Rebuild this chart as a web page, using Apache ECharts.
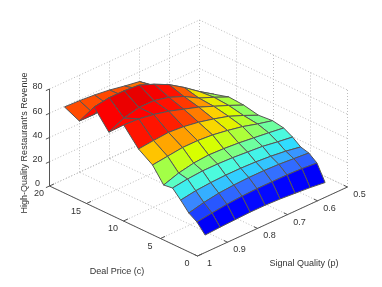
<!DOCTYPE html>
<html><head><meta charset="utf-8">
<style>html,body{margin:0;padding:0;background:#fff}#c{width:382px;height:287px}</style>
<script src="https://cdn.jsdelivr.net/npm/echarts@6/dist/echarts.min.js"></script>
</head><body><div id="c"></div>
<script>
// Tick labels
const dealPriceTicks = [0, 5, 10, 15, 20];
const signalTicks = [0.5, 0.6, 0.7, 0.8, 0.9, 1];
const revenueTicks = [0, 20, 40, 60, 80];
// Surface sample positions
const dealPrice = [1, 2.1, 3.2, 4.3, 5.4, 6.6, 8.1, 10, 12, 14, 16, 18, 20];
const signalQuality = [0.95, 0.9, 0.85, 0.8, 0.75, 0.7, 0.65, 0.6, 0.55];
// Revenue per deal price, across signalQuality
const rev01 = [8.7, 9.5, 10, 10.5, 10.5, 10, 9, 8, 6.5];
const rev02 = [16.3, 18, 19.5, 20.5, 21, 21, 21, 20.5, 19.4];
const rev03 = [20.5, 23.5, 25.5, 26.5, 27, 27, 26.5, 25.5, 24.5];
const rev04 = [28, 30, 31, 31.5, 31.5, 31, 30, 28.5, 26.3];
const rev05 = [34.8, 36.5, 37.5, 37.5, 37, 36, 35, 33, 31.3];
const rev06 = [33.8, 38, 40.5, 41.5, 41, 40, 38.5, 37, 35.3];
const rev08 = [46, 47.5, 49, 49, 48, 46, 43.5, 40, 37];
const rev10 = [53.7, 55, 56, 55, 53, 50, 46.5, 41.5, 36];
const rev12 = [67.7, 67, 65, 62, 58, 54, 49, 44, 38.6];
const rev14 = [56, 62, 65, 65, 62, 57, 50, 45, 39.5];
const rev16 = [71, 73, 73, 72, 67, 61, 53, 44, 36];
const rev18 = [53.7, 53.5, 55, 57, 57, 54, 46, 38, 31];
const rev20 = [59.5, 59, 58, 56.4, 54, 52, 43, 36, 28];
const revenue = [rev01, rev02, rev03, rev04, rev05, rev06, rev08, rev10, rev12, rev14, rev16, rev18, rev20];

const zMin = 10, zMax = 75;
const surfaceColors = ['#0000f0', '#0000ff', '#1f45ff', '#3a7dff', '#30e0ff', '#50ffd8', '#90ff60', '#d8ff00',
  '#ffd000', '#ff6000', '#ff1800', '#ff0000', '#e00000', '#a80000'];
const font = '9px "Liberation Sans", Arial, sans-serif';
const axisColor = '#555', gridColor = '#bdbdbd', textColor = '#333';

// Oblique view: screen position for (deal price, signal quality, revenue)
function project(c, p, z) {
  return [197.5 - 7.4 * c + 300 * (1 - p), 256 - 3.5 * c - 138 * (1 - p) - 1.2125 * z];
}

const cells = [];
for (let i = dealPrice.length - 2; i >= 0; i--) {
  for (let j = signalQuality.length - 2; j >= 0; j--) {
    const m = (revenue[i][j] + revenue[i + 1][j] + revenue[i][j + 1] + revenue[i + 1][j + 1]) / 4;
    cells.push([i, j, m]);
  }
}

const lines = [];
const line = (a, b, color, dash) => lines.push({ a, b, color, dash });
const cMax = 20, pMin = 0.5, zTop = 80;
revenueTicks.forEach(z => {
  line([cMax, 1, z], [cMax, pMin, z], gridColor, [1, 2]);
  line([cMax, pMin, z], [0, pMin, z], gridColor, [1, 2]);
});
dealPriceTicks.forEach(c => {
  line([c, 1, 0], [c, pMin, 0], gridColor, [1, 2]);
  line([c, pMin, 0], [c, pMin, zTop], gridColor, [1, 2]);
});
signalTicks.forEach(p => {
  line([0, p, 0], [cMax, p, 0], gridColor, [1, 2]);
  line([cMax, p, 0], [cMax, p, zTop], gridColor, [1, 2]);
});
line([cMax, 1, 0], [0, 1, 0], axisColor);
line([0, 1, 0], [0, pMin, 0], axisColor);
line([cMax, 1, 0], [cMax, 1, zTop], axisColor);
dealPriceTicks.forEach(c => line([c, 1, 0], [c, 0.985, 0], axisColor));
signalTicks.forEach(p => line([0, p, 0], [0.5, p, 0], axisColor));
revenueTicks.forEach(z => line([cMax, 1, z], [cMax, 1.012, z], axisColor));

const labels = [];
dealPriceTicks.forEach(c => labels.push({ t: String(c), at: [c, 1, 0], dx: -10.5, dy: 8 }));
signalTicks.forEach(p => labels.push({ t: String(p), at: [0, p, 0], dx: 12, dy: 7.5 }));
revenueTicks.forEach(z => labels.push({ t: String(z), at: [cMax, 1, z], dx: -12, dy: -2 }));

const chart = echarts.init(document.getElementById('c'), null, { renderer: 'canvas' });
chart.setOption({
  animation: false,
  backgroundColor: '#fff',
  grid: { left: 0, right: 0, top: 0, bottom: 0 },
  xAxis: { type: 'value', min: 0, max: 382, show: false },
  yAxis: { type: 'value', min: 0, max: 287, inverse: true, show: false },
  visualMap: { show: false, seriesIndex: 1, dimension: 2, min: zMin, max: zMax, inRange: { color: surfaceColors } },
  series: [
    {
      type: 'custom', coordinateSystem: 'cartesian2d', silent: true, clip: false, z: 1,
      data: lines.map((l, k) => [k]),
      encode: { x: 0, y: 0 },
      renderItem(params, api) {
        const l = lines[api.value(0)];
        const a = api.coord(project(...l.a)), b = api.coord(project(...l.b));
        return { type: 'line', shape: { x1: a[0], y1: a[1], x2: b[0], y2: b[1] },
          style: { stroke: l.color, lineWidth: 1, lineDash: l.dash || null } };
      }
    },
    {
      type: 'custom', coordinateSystem: 'cartesian2d', silent: true, clip: false, z: 2,
      data: cells,
      encode: { x: 0, y: 1 },
      renderItem(params, api) {
        const i = api.value(0), j = api.value(1);
        const corners = [[i, j], [i + 1, j], [i + 1, j + 1], [i, j + 1]]
          .map(([a, b]) => api.coord(project(dealPrice[a], signalQuality[b], revenue[a][b])));
        return { type: 'polygon', shape: { points: corners },
          style: { fill: api.visual('color'), stroke: '#555', lineWidth: 1, lineJoin: 'round' } };
      }
    },
    {
      type: 'custom', coordinateSystem: 'cartesian2d', silent: true, clip: false, z: 3,
      data: labels.map((l, k) => [k]),
      encode: { x: 0, y: 0 },
      renderItem(params, api) {
        const l = labels[api.value(0)];
        const a = api.coord(project(...l.at));
        return { type: 'text', style: { text: l.t, x: a[0] + l.dx, y: a[1] + l.dy, font, fill: textColor, align: 'center', verticalAlign: 'middle' } };
      }
    }
  ],
  graphic: [
    { type: 'text', x: 117, y: 272, style: { text: 'Deal Price (c)', font, fill: textColor, align: 'center', verticalAlign: 'middle' } },
    { type: 'text', x: 304, y: 264, style: { text: 'Signal Quality (p)', font, fill: textColor, align: 'center', verticalAlign: 'middle' } },
    { type: 'text', x: 25, y: 143, rotation: Math.PI / 2, style: { text: "High-Quality Restaurant's Revenue", font, fill: textColor, align: 'center', verticalAlign: 'middle' } }
  ]
});
</script></body></html>
